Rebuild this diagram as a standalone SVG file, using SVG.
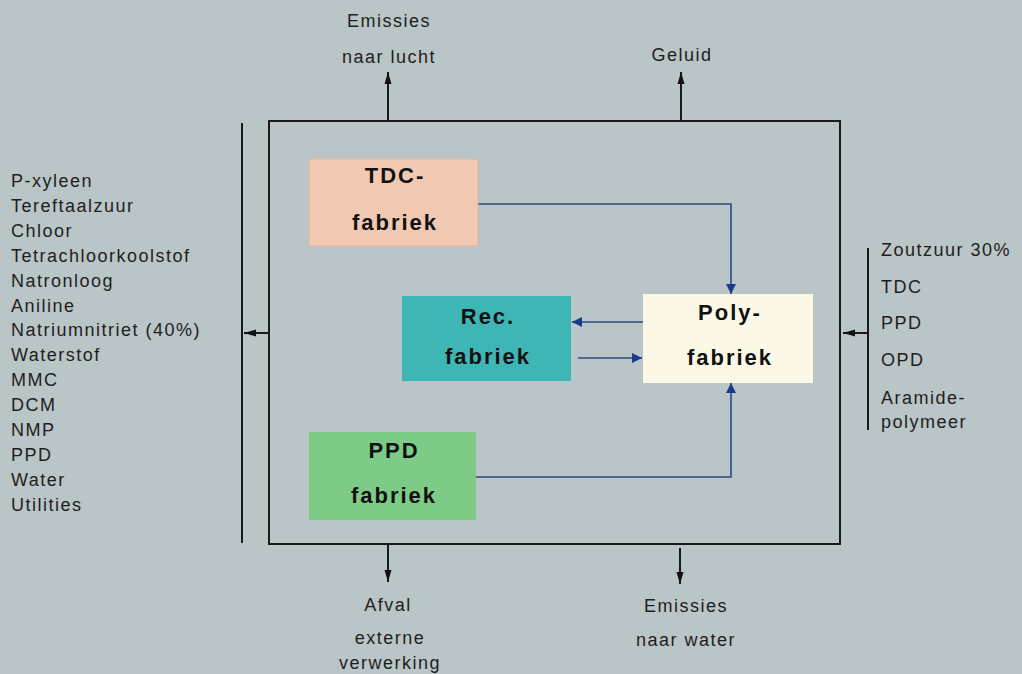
<svg xmlns="http://www.w3.org/2000/svg" width="1022" height="674" viewBox="0 0 1022 674">
<defs>
<style>
.lbl{font-family:"Liberation Sans",Arial,sans-serif;font-size:18px;letter-spacing:1.5px;fill:#1e1e1e}
.nt{font-family:"Liberation Sans",Arial,sans-serif;font-size:22px;letter-spacing:2px;font-weight:bold;fill:#111;text-anchor:middle}
.ln{stroke:#1a1a1a;stroke-width:2;fill:none}
.bl{stroke:#2a4a80;stroke-width:1.6;fill:none}
</style>
<marker id="ab" viewBox="0 0 10 10" refX="10" refY="5" markerWidth="10" markerHeight="10" markerUnits="userSpaceOnUse" orient="auto"><path d="M0,0L10,5L0,10z" fill="#1a3a8a"/></marker>
<marker id="ak" viewBox="0 0 12 8" refX="12" refY="4" markerWidth="12" markerHeight="8" markerUnits="userSpaceOnUse" orient="auto"><path d="M0,0.5L12,4L0,7.5z" fill="#111"/></marker>
</defs>
<rect width="1022" height="674" fill="#bac5c7"/>
<g id="frame">
<rect x="269" y="121" width="571" height="423" class="ln"/>
<line x1="242" y1="123" x2="242" y2="543" class="ln"/>
<line x1="868" y1="248" x2="868" y2="430" class="ln"/>
</g>
<g id="connectors">
<line x1="269" y1="333" x2="244" y2="333" class="ln" marker-end="url(#ak)"/>
<line x1="868" y1="333" x2="843" y2="333" class="ln" marker-end="url(#ak)"/>
<line x1="388" y1="121" x2="388" y2="72" class="ln" marker-end="url(#ak)"/>
<line x1="681" y1="121" x2="681" y2="72" class="ln" marker-end="url(#ak)"/>
<line x1="388" y1="544" x2="388" y2="582" class="ln" marker-end="url(#ak)"/>
<line x1="680" y1="548" x2="680" y2="584" class="ln" marker-end="url(#ak)"/>
<path d="M478,204H731V294" class="bl" marker-end="url(#ab)"/>
<path d="M476,477H731V383" class="bl" marker-end="url(#ab)"/>
<line x1="643" y1="322" x2="572" y2="322" class="bl" marker-end="url(#ab)"/>
<line x1="578" y1="358" x2="642" y2="358" class="bl" marker-end="url(#ab)"/>
</g>
<g id="tdc">
<rect x="309" y="159" width="169" height="87" fill="#f1c8b2" stroke="#e0b49c"/>
<text class="nt" x="395" y="183">TDC-</text>
<text class="nt" x="395" y="230">fabriek</text>
</g>
<g id="rec">
<rect x="402" y="296" width="169" height="85" fill="#3fb6b6"/>
<text class="nt" x="488" y="324">Rec.</text>
<text class="nt" x="488" y="364">fabriek</text>
</g>
<g id="poly">
<rect x="643" y="294" width="170" height="89" fill="#fbf9e6"/>
<text class="nt" x="730" y="320">Poly-</text>
<text class="nt" x="730" y="365">fabriek</text>
</g>
<g id="ppd">
<rect x="309" y="432" width="167" height="88" fill="#7ecb88"/>
<text class="nt" x="394" y="458">PPD</text>
<text class="nt" x="394" y="503">fabriek</text>
</g>
<g id="top-labels">
<text class="lbl" x="389" y="27" text-anchor="middle">Emissies</text>
<text class="lbl" x="389" y="63" text-anchor="middle">naar lucht</text>
<text class="lbl" x="682" y="61" text-anchor="middle">Geluid</text>
</g>
<g id="bottom-labels">
<text class="lbl" x="388" y="611" text-anchor="middle">Afval</text>
<text class="lbl" x="390" y="644" text-anchor="middle">externe</text>
<text class="lbl" x="390" y="669" text-anchor="middle">verwerking</text>
<text class="lbl" x="686" y="612" text-anchor="middle">Emissies</text>
<text class="lbl" x="686" y="646" text-anchor="middle">naar water</text>
</g>
<g id="inputs">
<text class="lbl" x="11" y="187">P-xyleen</text>
<text class="lbl" x="11" y="212">Tereftaalzuur</text>
<text class="lbl" x="11" y="237">Chloor</text>
<text class="lbl" x="11" y="262">Tetrachloorkoolstof</text>
<text class="lbl" x="11" y="287">Natronloog</text>
<text class="lbl" x="11" y="312">Aniline</text>
<text class="lbl" x="11" y="336">Natriumnitriet (40%)</text>
<text class="lbl" x="11" y="361">Waterstof</text>
<text class="lbl" x="11" y="386">MMC</text>
<text class="lbl" x="11" y="411">DCM</text>
<text class="lbl" x="11" y="436">NMP</text>
<text class="lbl" x="11" y="461">PPD</text>
<text class="lbl" x="11" y="486">Water</text>
<text class="lbl" x="11" y="511">Utilities</text>
</g>
<g id="outputs">
<text class="lbl" x="881" y="256">Zoutzuur 30%</text>
<text class="lbl" x="881" y="293">TDC</text>
<text class="lbl" x="881" y="329">PPD</text>
<text class="lbl" x="881" y="366">OPD</text>
<text class="lbl" x="881" y="404">Aramide-</text>
<text class="lbl" x="881" y="428">polymeer</text>
</g>
</svg>
